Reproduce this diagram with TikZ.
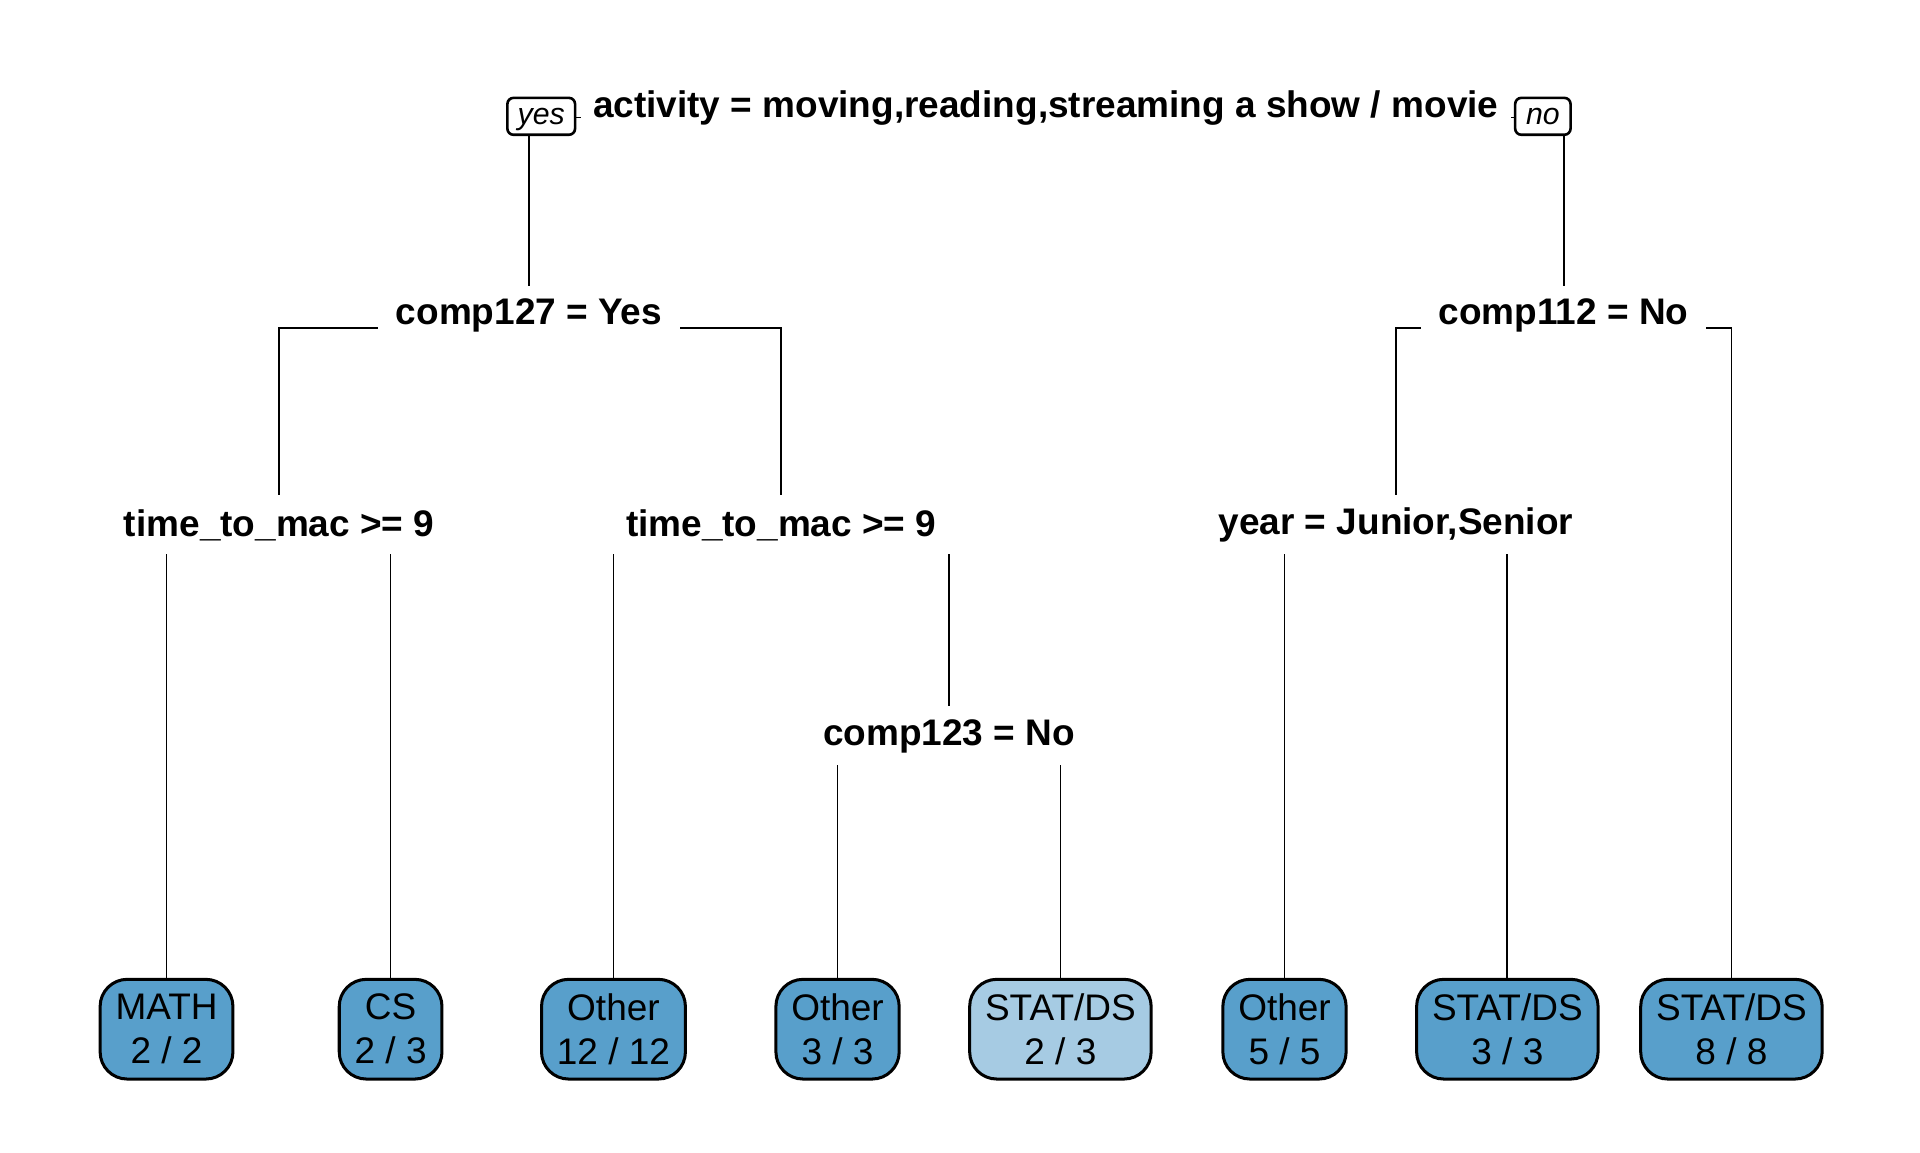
\documentclass[tikz,border=0pt]{standalone}
\usepackage{fontspec}
\setmainfont{Liberation Sans}
\usetikzlibrary{backgrounds}
\definecolor{leafdark}{HTML}{589FCB}
\definecolor{leaflight}{HTML}{A6CBE3}
\begin{document}
\begin{tikzpicture}[x=0.00995cm,y=-0.00995cm,line width=0.6pt,
    split/.style={fill=white,inner xsep=0.145cm,inner ysep=0pt,minimum height=0.47cm,
        font=\fontsize{8.55}{10.2}\selectfont\bfseries},
    leaf/.style={draw,line width=0.7pt,fill=leafdark,rounded corners=0.22cm,align=center,
        inner xsep=0.125cm,inner ysep=0pt,minimum height=0.81cm,
        font=\fontsize{8.55}{10.2}\selectfont},
    tag/.style={draw,fill=white,rounded corners=0.05cm,inner sep=0pt,minimum height=0.3cm,
        text depth=0pt,font=\fontsize{7}{8}\selectfont\itshape}]
    \useasboundingbox (0,0) rectangle (1568,941);
    % splits
    \node[split,inner xsep=0.1cm] (root) at (854,88) {activity = moving,reading,streaming a show / movie};
    \node[tag,minimum width=0.55cm] (yes) at (442,95) {yes};
    \node[tag,minimum width=0.45cm] (no) at (1260,95) {no};
    \node[split] (comp127) at (432,258) {comp127 = Yes};
    \node[split] (comp112) at (1277,258) {comp112 = No};
    \node[split] (ttmA) at (228,429) {time\_to\_mac >= 9};
    \node[split] (ttmB) at (638,429) {time\_to\_mac >= 9};
    \node[split] (year) at (1140,429) {year = Junior,Senior};
    \node[split] (comp123) at (775,601.5) {comp123 = No};
    % leaves
    \node[leaf] (math) at (136,840.5) {MATH\\2 / 2};
    \node[leaf] (cs) at (319,840.5) {CS\\2 / 3};
    \node[leaf] (otherA) at (501,840.5) {Other\\12 / 12};
    \node[leaf] (otherB) at (684,840.5) {Other\\3 / 3};
    \node[leaf,fill=leaflight] (statA) at (866,840.5) {STAT/DS\\2 / 3};
    \node[leaf] (otherC) at (1049,840.5) {Other\\5 / 5};
    \node[leaf] (statB) at (1231,840.5) {STAT/DS\\3 / 3};
    \node[leaf] (statC) at (1414,840.5) {STAT/DS\\8 / 8};
    % branches
    \begin{scope}[on background layer]
        \draw ([yshift=-0.08cm]root.center) -| (comp127.north);
        \draw ([yshift=-0.08cm]root.center) -| (comp112.north);
        \draw ([yshift=-0.1cm]comp127.center) -| (ttmA.north);
        \draw ([yshift=-0.1cm]comp127.center) -| (ttmB.north);
        \draw ([yshift=-0.1cm]comp112.center) -| (year.north);
        \draw ([yshift=-0.1cm]comp112.center) -| (statC.north);
        \draw ([yshift=-0.1cm]ttmA.center) -| (math.north);
        \draw ([yshift=-0.1cm]ttmA.center) -| (cs.north);
        \draw ([yshift=-0.1cm]ttmB.center) -| (otherA.north);
        \draw ([yshift=-0.1cm]ttmB.center) -| (comp123.north);
        \draw ([yshift=-0.1cm]comp123.center) -| (otherB.north);
        \draw ([yshift=-0.1cm]comp123.center) -| (statA.north);
        \draw ([yshift=-0.1cm]year.center) -| (otherC.north);
        \draw ([yshift=-0.1cm]year.center) -| (statB.north);
    \end{scope}
\end{tikzpicture}
\end{document}
